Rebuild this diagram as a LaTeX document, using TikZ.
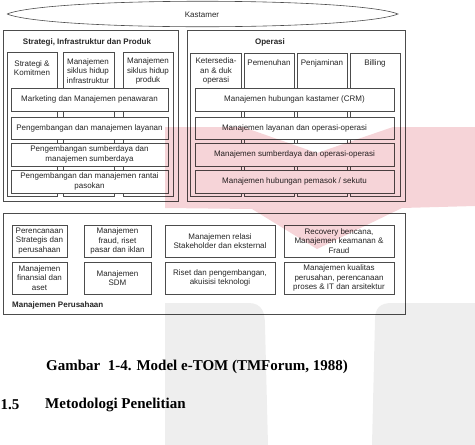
\documentclass[tikz,border=0pt]{standalone}
\usepackage{fontspec}
\setmainfont{Liberation Sans}
\newfontfamily\capfont{Liberation Serif}
\definecolor{wmred}{RGB}{246,212,216}
\definecolor{wmgray}{RGB}{238,238,238}

\begin{document}
\begin{tikzpicture}[x=1pt,y=-1pt,
  box/.style={draw=black!70,fill=white,line width=0.6pt},
  blk/.style={box,inner sep=0pt,align=center,text=black!85,
    font=\fontsize{8}{9.5}\selectfont},
  txt/.style={inner sep=0pt,align=center,text=black!85,
    font=\fontsize{8}{9.5}\selectfont},
  ttl/.style={inner sep=0pt,text=black!85,font=\fontsize{8}{9.5}\selectfont\bfseries},
  capt/.style={inner sep=0pt,font=\capfont\fontsize{15}{18}\selectfont\bfseries}]
  \useasboundingbox (0,0) rectangle (475,445);
  % customer lens
  \draw[black!70,line width=0.6pt] (7,14) .. controls (50,-3) and (355,-3) .. (398,14)
    .. controls (355,31) and (50,31) .. (7,14);
  \node[txt] (kast) at (202,15) {Kastamer};
  % strategy, infrastructure and product
  \draw[box] (3,30) rectangle (178,201);
  \node[ttl] (sip) at (87,42) {Strategi, Infrastruktur dan Produk};
  \draw[box] (7,52) rectangle (57,196);
  \draw[box] (63,52) rectangle (114,196);
  \draw[box] (123,52) rectangle (173,196);
  \node[txt] (strkom) at (32,68) {Strategi \&\\Komitmen};
  \node[txt] (infra) at (88,71) {Manajemen\\siklus hidup\\infrastruktur};
  \node[txt] (prod) at (148,71) {Manajemen\\siklus hidup\\produk};
  \node[blk,minimum width=157pt,minimum height=23pt] (mkt) at (89.5,99.5)
    {Marketing dan Manajemen penawaran};
  \node[blk,minimum width=157pt,minimum height=22pt] (layan) at (89.5,128)
    {Pengembangan dan manajemen layanan};
  \node[blk,minimum width=157pt,minimum height=23pt] (sdaya) at (89.5,154.5)
    {Pengembangan sumberdaya dan\\manajemen sumberdaya};
  \node[blk,minimum width=157pt,minimum height=23pt] (rantai) at (89.5,181.5)
    {Pengembangan dan manajemen rantai\\pasokan};
  % operations
  \draw[box] (187,30) rectangle (405,201);
  \node[ttl] (ops) at (270,42) {Operasi};
  \draw[box] (190,53) rectangle (241,196);
  \draw[box] (244,53) rectangle (294,196);
  \draw[box] (297,53) rectangle (347,196);
  \draw[box] (350,53) rectangle (400,196);
  \node[txt] (ketsd) at (216,71) {Ketersedia-\\an \& duk\\operasi};
  \node[txt] (pmnh) at (269,63) {Pemenuhan};
  \node[txt] (pnjm) at (322,63) {Penjaminan};
  \node[txt] (bill) at (375,63) {Billing};
  \node[blk,minimum width=199pt,minimum height=23pt] (crm) at (294.5,99.5)
    {Manajemen hubungan kastamer (CRM)};
  \node[blk,minimum width=199pt,minimum height=22pt] (opslay) at (294.5,128)
    {Manajemen layanan dan operasi-operasi};
  \node[blk,minimum width=199pt,minimum height=23pt] (opssd) at (294.5,154.5)
    {Manajemen sumberdaya dan operasi-operasi};
  \node[blk,minimum width=199pt,minimum height=23pt] (pmsk) at (294.5,181.5)
    {Manajemen hubungan pemasok / sekutu};
  % enterprise management
  \draw[box] (3,213) rectangle (405,314);
  \node[blk,minimum width=55pt,minimum height=32pt] (renstra) at (39.5,241)
    {Perencanaan\\Strategis dan\\perusahaan};
  \node[blk,minimum width=67pt,minimum height=32pt] (fraud) at (117.5,241)
    {Manajemen\\fraud, riset\\pasar dan iklan};
  \node[blk,minimum width=110pt,minimum height=32pt] (relasi) at (220,241)
    {Manajemen relasi\\Stakeholder dan eksternal};
  \node[blk,minimum width=110pt,minimum height=32pt] (recov) at (339,241)
    {Recovery bencana,\\Manajemen keamanan \&\\Fraud};
  \node[blk,minimum width=55pt,minimum height=32pt] (finans) at (39.5,278)
    {Manajemen\\finansial dan\\aset};
  \node[blk,minimum width=67pt,minimum height=32pt] (sdm) at (117.5,278)
    {Manajemen\\SDM};
  \node[blk,minimum width=110pt,minimum height=32pt] (riset) at (220,278)
    {Riset dan pengembangan,\\akuisisi teknologi};
  \node[blk,minimum width=110pt,minimum height=32pt] (kualit) at (339,278)
    {Manajemen kualitas\\perusahan, perencanaan\\proses \& IT dan arsitektur};
  \node[ttl,anchor=west] (mp) at (12,305) {Manajemen Perusahaan};
  % caption and next heading
  \node[capt] (gbr) at (197,367) {Gambar\ \ 1-4. Model e-TOM (TMForum, 1988)};
  \node[capt,anchor=west] (subbab) at (0.5,405) {1.5};
  \node[capt,anchor=west] (metod) at (45,405) {Metodologi Penelitian};
  % watermark, multiplied over everything
  \begin{scope}[blend mode=multiply]
    \fill[wmred] (165,127) -- (243,127) -- (317,153) -- (393,127) -- (475,127)
      -- (475,206) -- (402,208) -- (317,249) -- (252,209) -- (165,208) -- cycle;
    \fill[wmgray] (165,445) -- (165,303) -- (248,303) .. controls (262,303) and (265,312) .. (265,325)
      -- (268,445) -- cycle;
    \fill[wmgray] (372,445) -- (375,320) .. controls (375,308) and (380,303) .. (392,303)
      -- (475,303) -- (475,445) -- cycle;
  \end{scope}
\end{tikzpicture}
\end{document}
